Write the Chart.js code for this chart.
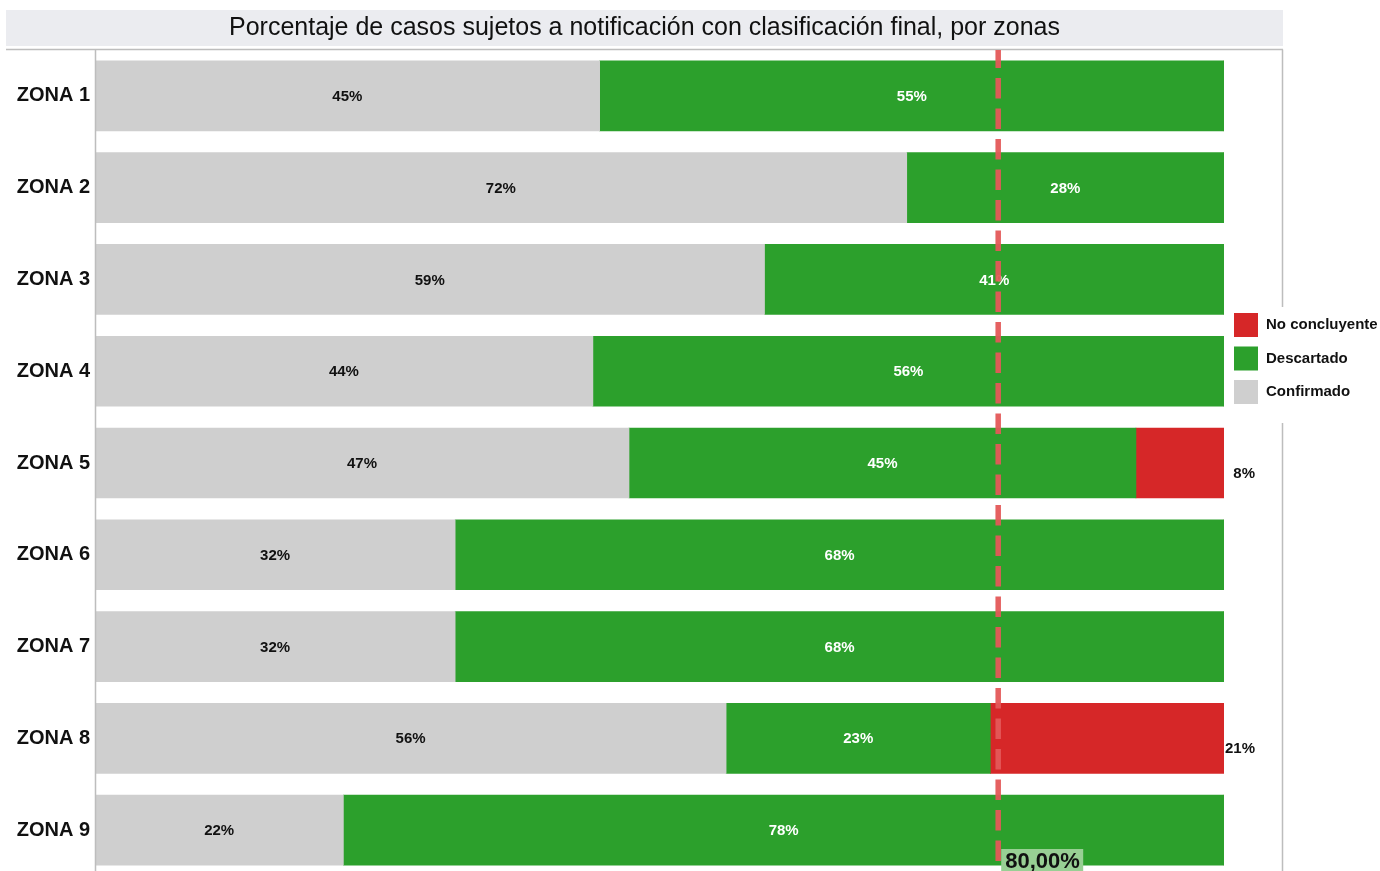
<!DOCTYPE html>
<html>
<head>
<meta charset="utf-8">
<script src="https://cdn.jsdelivr.net/npm/chart.js@4"></script>
<style>
  html, body { margin: 0; padding: 0; background: #fff; overflow: hidden; }
  canvas { display: block; }
</style>
</head>
<body>
<canvas id="chart" width="1380" height="876" style="width:1380px;height:876px"></canvas>
<script>
// -------------------------
// Data
// -------------------------
const zonas = ["ZONA 1", "ZONA 2", "ZONA 3", "ZONA 4", "ZONA 5", "ZONA 6", "ZONA 7", "ZONA 8", "ZONA 9"];
const confirmado = [44.7, 71.9, 59.3, 44.1, 47.3, 31.9, 31.9, 55.9, 22.0];
const descartado = [55.3, 28.1, 40.7, 55.9, 44.9, 68.1, 68.1, 23.4, 78.0];
const noConcluyente = [0, 0, 0, 0, 7.8, 0, 0, 20.7, 0];
const meta = 80;
const titulo = "Porcentaje de casos sujetos a notificación con clasificación final, por zonas";

const FONT = "'Liberation Sans', Arial, sans-serif";
const colors = { conf: "#cfcfcf", desc: "#2ca02c", noc: "#d62728" };

// -------------------------
// Extras: title, labels, frame, goal line, legend
// -------------------------
const extras = {
  id: "extras",
  beforeDraw(chart) {
    const ctx = chart.ctx;
    ctx.save();
    ctx.fillStyle = "#fff";
    ctx.fillRect(0, 0, chart.width, chart.height);
    ctx.fillStyle = "#ebecf0";
    ctx.fillRect(6, 10, 1277, 36);
    ctx.fillStyle = "#111";
    ctx.font = "25px " + FONT;
    ctx.textAlign = "center";
    ctx.textBaseline = "middle";
    ctx.fillText(titulo, 644.5, 28);
    ctx.restore();
  },
  afterDatasetsDraw(chart) {
    const ctx = chart.ctx;
    const xs = chart.scales.x;
    ctx.save();

    // segment labels
    ctx.font = "bold 15px " + FONT;
    ctx.textBaseline = "middle";
    chart.data.datasets.forEach((ds, di) => {
      chart.getDatasetMeta(di).data.forEach((bar, i) => {
        const v = ds.data[i];
        if (!v) return;
        const txt = Math.round(v) + "%";
        if (ds.key === "noc") {
          ctx.fillStyle = "#111";
          ctx.textAlign = "right";
          ctx.fillText(txt, xs.getPixelForValue(100) + 31, bar.y + 11);
        } else {
          ctx.fillStyle = ds.key === "desc" ? "#fff" : "#111";
          ctx.textAlign = "center";
          ctx.fillText(txt, (bar.x + bar.base) / 2, bar.y + 1);
        }
      });
    });

    // frame
    ctx.strokeStyle = "#bdbdbd";
    ctx.lineWidth = 1.5;
    ctx.beginPath();
    ctx.moveTo(6, 49.5);
    ctx.lineTo(1283, 49.5);
    ctx.moveTo(1282.5, 49.5);
    ctx.lineTo(1282.5, chart.height);
    ctx.moveTo(95.5, 49.5);
    ctx.lineTo(95.5, chart.height);
    ctx.stroke();

    // goal line
    const gx = xs.getPixelForValue(meta);
    ctx.strokeStyle = "rgba(228, 88, 88, 0.95)";
    ctx.lineWidth = 5.5;
    ctx.setLineDash([20.5, 10]);
    ctx.lineDashOffset = 2.5;
    ctx.beginPath();
    ctx.moveTo(gx, 50);
    ctx.lineTo(gx, chart.height);
    ctx.stroke();
    ctx.setLineDash([]);

    // goal label
    ctx.fillStyle = "#98cf94";
    ctx.fillRect(gx + 3, 849, 82, 30);
    ctx.fillStyle = "#111";
    ctx.font = "bold 22px " + FONT;
    ctx.textAlign = "left";
    ctx.textBaseline = "alphabetic";
    ctx.fillText(meta.toFixed(2).replace(".", ",") + "%", gx + 7, 868);

    // legend
    ctx.fillStyle = "#fff";
    ctx.fillRect(1229, 307, 151, 116);
    const items = [["No concluyente", colors.noc], ["Descartado", colors.desc], ["Confirmado", colors.conf]];
    ctx.font = "bold 15px " + FONT;
    ctx.textBaseline = "middle";
    items.forEach((it, i) => {
      const y = 313 + i * 33.5;
      ctx.fillStyle = it[1];
      ctx.fillRect(1234, y, 24, 24);
      ctx.fillStyle = "#111";
      ctx.fillText(it[0], 1266, y + 12);
    });

    ctx.restore();
  }
};

// -------------------------
// Chart
// -------------------------
new Chart(document.getElementById("chart"), {
  type: "bar",
  data: {
    labels: zonas,
    datasets: [
      { key: "conf", label: "Confirmado", data: confirmado, backgroundColor: colors.conf },
      { key: "desc", label: "Descartado", data: descartado, backgroundColor: colors.desc },
      { key: "noc", label: "No concluyente", data: noConcluyente, backgroundColor: colors.noc }
    ]
  },
  options: {
    indexAxis: "y",
    responsive: false,
    animation: false,
    devicePixelRatio: 1,
    layout: { padding: { top: 50, right: 156, left: 0, bottom: 0 } },
    datasets: { bar: { barThickness: 70, borderWidth: 0 } },
    scales: {
      x: { stacked: true, display: false, min: 0, max: 100 },
      y: {
        stacked: true,
        grid: { display: false, drawTicks: false },
        border: { display: false },
        ticks: { color: "#111", padding: 5, font: { family: FONT, size: 20, weight: "bold" } },
        afterFit(scale) {
          scale.width = 95;
          scale.paddingTop = 0;
          scale.paddingBottom = 0;
        }
      }
    },
    plugins: {
      legend: { display: false },
      title: { display: false },
      tooltip: { enabled: false }
    }
  },
  plugins: [extras]
});
</script>
</body>
</html>
